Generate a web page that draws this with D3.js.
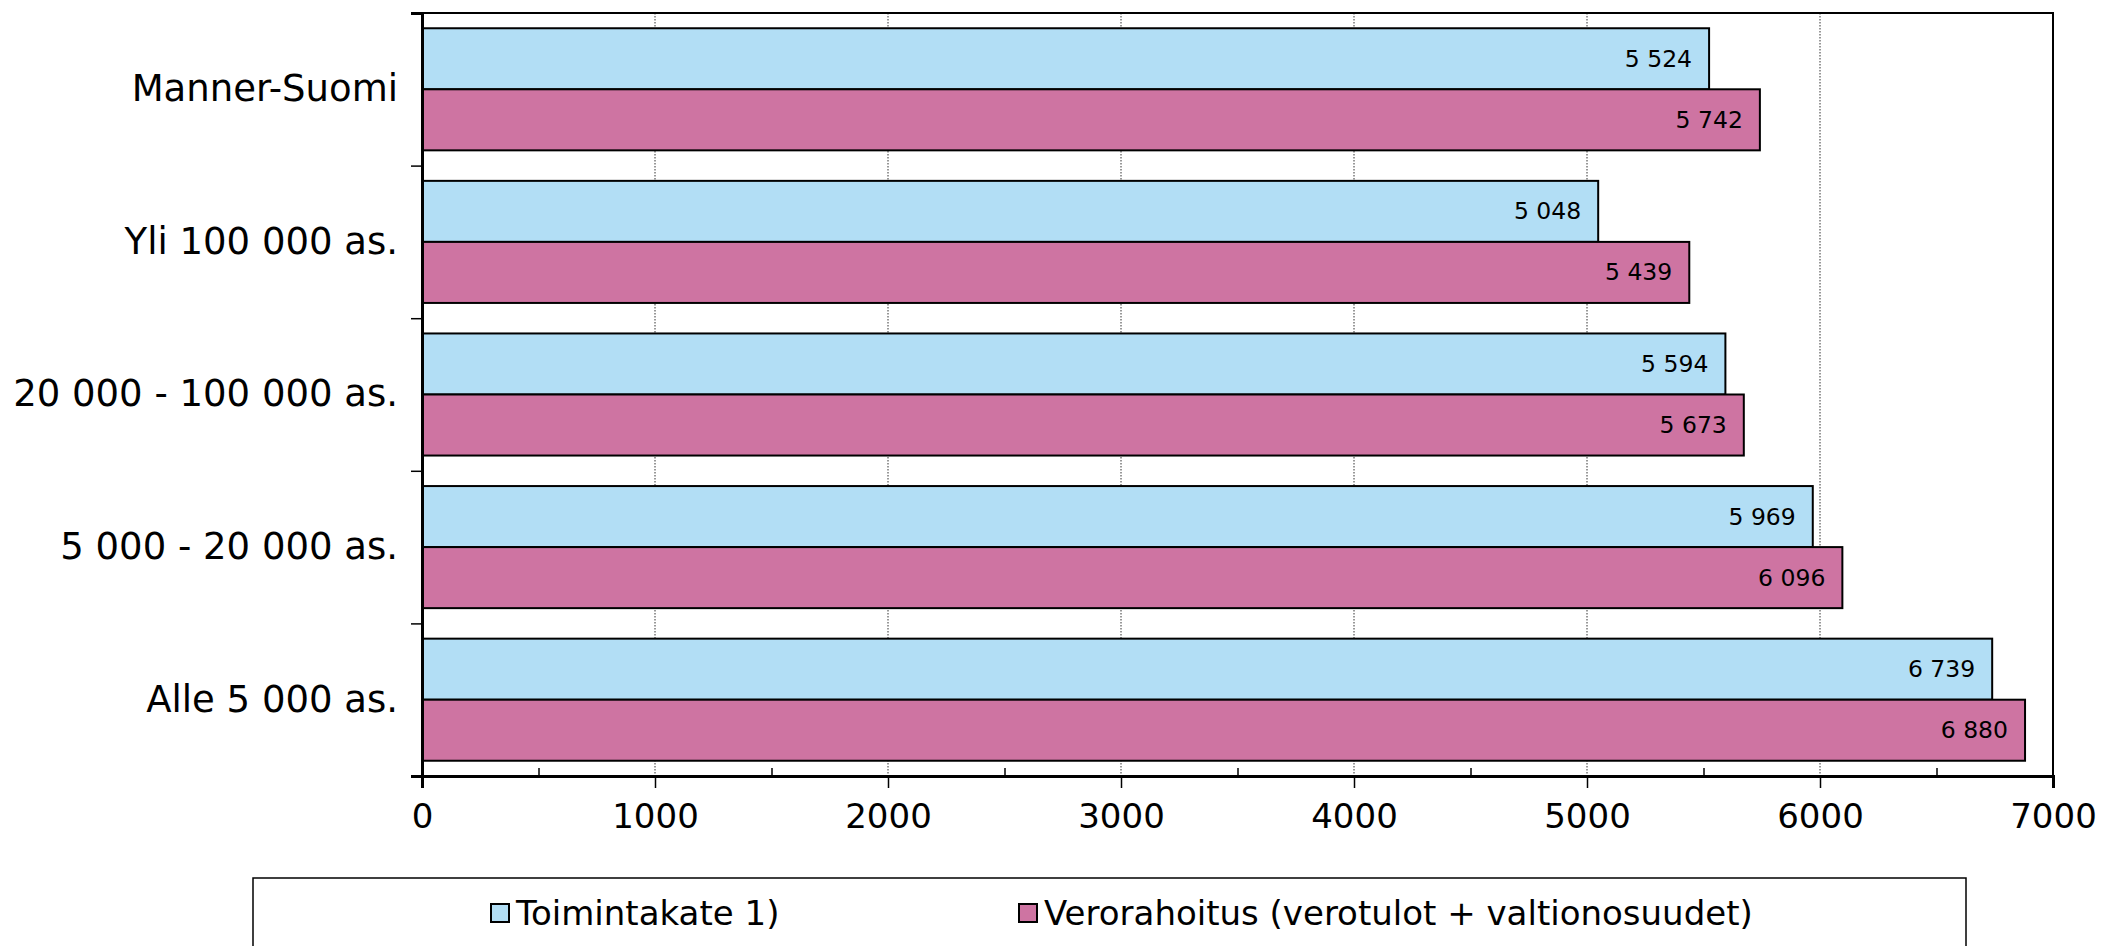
<!DOCTYPE html>
<html>
<head>
<meta charset="utf-8">
<script src="https://cdn.jsdelivr.net/npm/d3@7"></script>
<style>
  body { margin: 0; background: #fff; }
  svg { display: block; font-family: "DejaVu Sans", Verdana, sans-serif; }
</style>
</head>
<body>
<svg id="chart" width="2103" height="946"></svg>
<script>
// data
const categories = ["Manner-Suomi", "Yli 100 000 as.", "20 000 - 100 000 as.", "5 000 - 20 000 as.", "Alle 5 000 as."];
const seriesNames = ["Toimintakate 1)", "Verorahoitus (verotulot + valtionosuudet)"];
const toimintakate = [5524, 5048, 5594, 5969, 6739];
const verorahoitus = [5742, 5439, 5673, 6096, 6880];
const xTicks = [0, 1000, 2000, 3000, 4000, 5000, 6000, 7000];
const xMinorTicks = [500, 1500, 2500, 3500, 4500, 5500, 6500];

const colors = ["#b2def5", "#ce74a2"];

let svg = d3.select("#chart");
let margin = {top: 13, left: 422, right: 50, bottom: 170};
let width = 2053 - margin.left;
let height = 776 - margin.top;

let g = svg.append("g").attr("transform", "translate(" + margin.left + "," + margin.top + ")");

let xScale = d3.scaleLinear().domain([0, 7000]).range([0, width]);
let yScale = d3.scaleBand().domain(categories).range([0, height])
    .paddingInner(0.2).paddingOuter(0.1);
let ySub = d3.scaleBand().domain(seriesNames).range([0, yScale.bandwidth()]);
let yEdge = d3.scaleLinear().domain([0, categories.length]).range([0, height]);

// dotted gridlines
g.append("g").selectAll("line")
  .data(xTicks.filter(d => d > 0 && d < 7000))
  .enter().append("line")
  .attr("x1", d => xScale(d)).attr("x2", d => xScale(d))
  .attr("y1", 0).attr("y2", height)
  .attr("stroke", "#333").attr("stroke-width", 1)
  .attr("stroke-dasharray", "1.5,1.5");

// bars
let rows = categories.map((c, i) => ({cat: c, values: [toimintakate[i], verorahoitus[i]]}));
let groups = g.selectAll(".grp").data(rows).enter().append("g")
  .attr("class", "grp")
  .attr("transform", d => "translate(0," + yScale(d.cat) + ")");

let fmt = d => d3.format(",")(d).replace(/,/g, " ");

groups.selectAll("rect")
  .data(d => d.values.map((v, j) => ({v: v, s: seriesNames[j], j: j})))
  .enter().append("rect")
  .attr("x", 0)
  .attr("y", d => ySub(d.s))
  .attr("width", d => xScale(d.v))
  .attr("height", ySub.bandwidth())
  .attr("fill", d => colors[d.j])
  .attr("stroke", "#000").attr("stroke-width", 2);

groups.selectAll("text.val")
  .data(d => d.values.map((v, j) => ({v: v, s: seriesNames[j], j: j})))
  .enter().append("text")
  .attr("class", "val")
  .attr("x", d => xScale(d.v) - 17)
  .attr("y", d => ySub(d.s) + ySub.bandwidth() / 2 + 8)
  .attr("text-anchor", "end")
  .attr("font-size", 23.5)
  .attr("fill", "#000")
  .text(d => fmt(d.v));

// plot border
g.append("rect").attr("x", 0).attr("y", 0).attr("width", width).attr("height", height)
  .attr("fill", "none").attr("stroke", "#000").attr("stroke-width", 2);

// x axis (major ticks down, minor ticks up)
let xAxis = d3.axisBottom(xScale).tickValues(xTicks).tickSize(12).tickPadding(16)
  .tickFormat(d3.format("d"));
let xg = g.append("g").attr("transform", "translate(0," + height + ")").call(xAxis);
xg.select(".domain").attr("stroke-width", 3);
xg.selectAll("text").attr("font-size", 34).attr("fill", "#000")
  .attr("font-family", "DejaVu Sans");
xg.selectAll(".tick line").attr("stroke-width", 1.5);

let xMinor = d3.axisTop(xScale).tickValues(xMinorTicks).tickSize(8).tickFormat("");
let xm = g.append("g").attr("transform", "translate(0," + height + ")").call(xMinor);
xm.select(".domain").remove();
xm.selectAll(".tick line").attr("stroke-width", 1.5);

// y axis labels
let yAxis = d3.axisLeft(yScale).tickSize(0).tickPadding(24);
let yg = g.append("g").call(yAxis);
yg.select(".domain").remove();
yg.selectAll("text").attr("font-size", 37).attr("fill", "#000")
  .attr("font-family", "DejaVu Sans");

// y boundary ticks
let yTicksAxis = d3.axisLeft(yEdge).tickValues(d3.range(0, categories.length + 1)).tickSize(11).tickFormat("");
let yt = g.append("g").call(yTicksAxis);
yt.select(".domain").attr("stroke-width", 3);
yt.selectAll(".tick line").attr("stroke-width", 1.5);

// legend
let legend = svg.append("g");
legend.append("rect").attr("x", 253).attr("y", 878).attr("width", 1713).attr("height", 100)
  .attr("fill", "#fff").attr("stroke", "#000").attr("stroke-width", 1.5);
let legendX = [491, 1019];
seriesNames.forEach((name, i) => {
  legend.append("rect").attr("x", legendX[i]).attr("y", 904).attr("width", 18).attr("height", 18)
    .attr("fill", colors[i]).attr("stroke", "#000").attr("stroke-width", 2);
  legend.append("text").attr("x", legendX[i] + 25).attr("y", 925)
    .attr("font-size", 34).attr("fill", "#000").text(name);
});
</script>
</body>
</html>
